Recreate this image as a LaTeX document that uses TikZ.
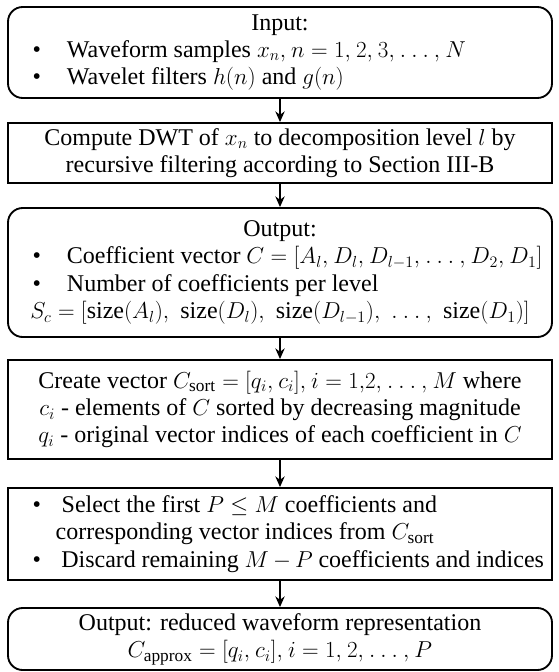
\documentclass[tikz,border=0pt]{standalone}
\usepackage{fontspec}
\setmainfont{Liberation Serif}
\usetikzlibrary{arrows.meta}
\DeclareMathSizes{18}{18}{13}{10}
\thinmuskip=4mu

% bullet with the gap up to the item text
\newcommand{\bul}[1][25.75pt]{\hspace*{12.5pt}\makebox[#1][l]{\textbullet}}
\newcommand{\midline}[1]{\makebox[\linewidth]{#1}}

\begin{document}
\begin{tikzpicture}[x=0.75pt,y=-0.75pt,line width=1.4pt,
  every node/.style={font=\fontsize{18}{20.5}\selectfont},
  roundbox/.style={draw,rounded corners=11pt,minimum width=408pt,text width=396pt,inner xsep=6pt,align=flush left},
  sqbox/.style={draw,minimum width=408pt,text width=396pt,inner xsep=6pt,align=flush center},
  flow/.style={-{Stealth[length=8pt,width=7pt]},line width=1.1pt}]
  \useasboundingbox (0,0) rectangle (558,672);

  \node[roundbox,minimum height=68.25pt] (input) at (280,52.5) {%
    \midline{Input:}\\
    \bul Waveform samples $x_n, n = 1, 2, 3, \ldots, N$\\
    \bul Wavelet filters $h(n)$ and $g(n)$};
  \node[sqbox,minimum height=45pt] (dwt) at (280,153) {%
    Compute DWT of $x_n$ to decomposition level $l$ by\\
    recursive filtering according to Section III-B};
  \node[roundbox,minimum height=96.75pt] (coef) at (280,272.5) {%
    \midline{Output:}\\
    \bul Coefficient vector $C = [A_l, D_l, D_{l-1}, \ldots, D_2, D_1]$\\
    \bul Number of coefficients per level\\
    \midline{$S_c = [\mathrm{size}(A_l),\ \mathrm{size}(D_l),\ \mathrm{size}(D_{l-1}),\ \ldots,\ \mathrm{size}(D_1)]$}};
  \node[sqbox,minimum height=74.25pt] (sort) at (280,409.5) {%
    Create vector $C_{\mathrm{sort}} = [q_i, c_i], i = 1{,}2, \ldots, M$ where\\
    $c_i$ - elements of $C$ sorted by decreasing magnitude\\
    $q_i$ - original vector indices of each coefficient in $C$};
  \node[roundbox,rounded corners=0pt,minimum height=69pt] (select) at (280,534) {%
    \bul[17.25pt] Select the first $P \le M$ coefficients and\\
    \hspace*{29.75pt}corresponding vector indices from $C_{\mathrm{sort}}$\\
    \bul[17.25pt] Discard remaining $M - P$ coefficients and indices};
  \node[roundbox,align=flush center,minimum height=46.5pt] (approx) at (280,639) {%
    Output: reduced waveform representation\\
    $C_{\mathrm{approx}} = [q_i, c_i], i = 1, 2, \ldots, P$};

  \path[flow]
    (input) edge (dwt)
    (dwt) edge (coef)
    (coef) edge (sort)
    (sort) edge (select)
    (select) edge (approx);
\end{tikzpicture}
\end{document}
